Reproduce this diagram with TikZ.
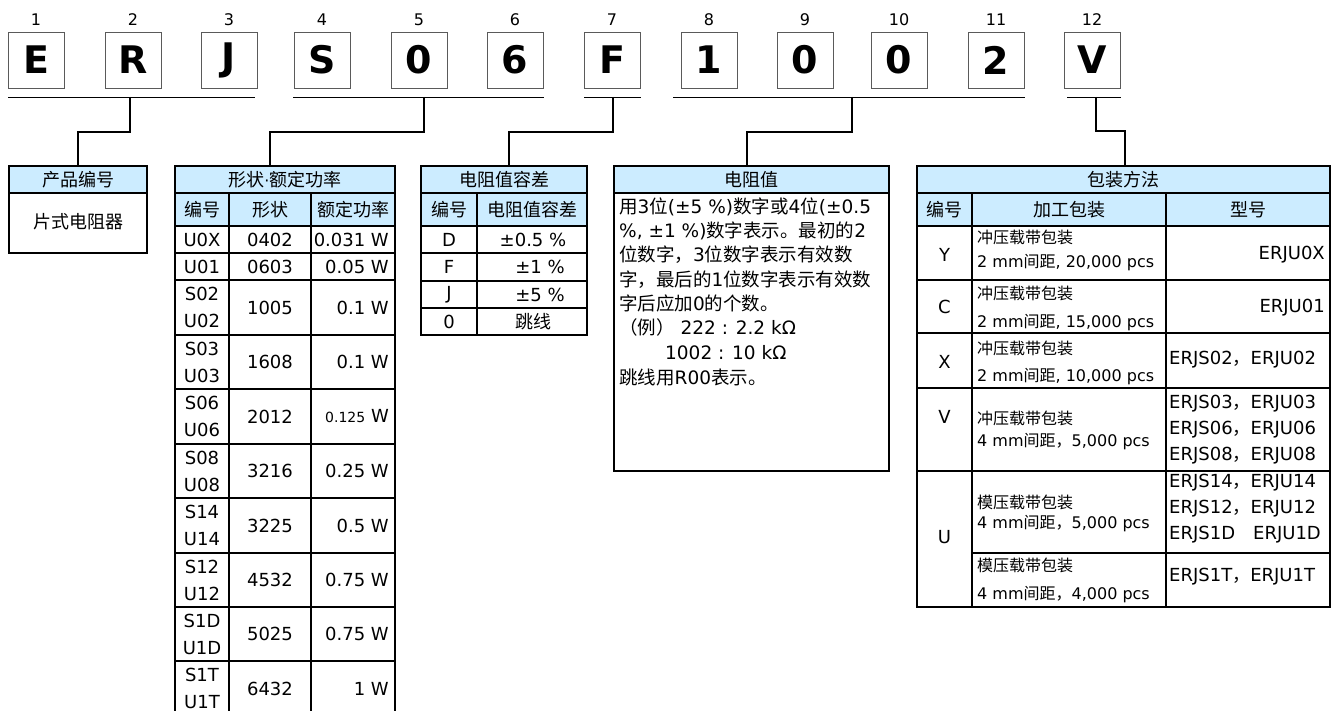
\documentclass[tikz,border=0pt]{standalone}
\usepackage{fontspec}
\setmainfont{DejaVu Sans}
\newfontfamily\cjk{Noto Sans CJK SC}
\newcommand{\zh}[1]{{\cjk #1}}
\usetikzlibrary{positioning}
\definecolor{headblue}{RGB}{204,236,255}
\definecolor{boxgray}{RGB}{90,90,90}

\begin{document}
\begin{tikzpicture}[x=1pt, y=-1pt,
  codebox/.style={draw=boxgray, line width=0.9pt, minimum width=56pt, minimum height=56pt, inner sep=0pt, font=\fontsize{38}{38}\selectfont\bfseries},
  digit/.style={inner sep=2pt, font=\fontsize{16}{16}\selectfont},
  rule/.style={line width=0.9pt},
  conn/.style={line width=1.8pt},
  grid/.style={line width=1.1pt},
  titlecell/.style={draw, line width=1.1pt, fill=headblue, minimum height=27pt, inner sep=0pt, font=\cjk\fontsize{18}{18}\selectfont},
  cjktext/.style={inner sep=0pt, font=\cjk\fontsize{18}{18}\selectfont},
  celltext/.style={inner sep=0pt, align=center, font=\fontsize{18}{27}\selectfont},
  para/.style={inner sep=0pt, anchor=base west, font=\fontsize{18.5}{18.5}\selectfont},
  packtext/.style={inner sep=0pt, anchor=base west, font=\fontsize{16}{16}\selectfont},
  codetext/.style={inner sep=0pt, align=left, anchor=west, font=\fontsize{18}{26}\selectfont}]

\path [use as bounding box] (0,0) rectangle (1333,711);

% CODE
\node (b1) [codebox] at (36,60) {E};
\node (b2) [codebox] at (133,60) {R};
\node (b3) [codebox] at (229,60) {J};
\node (b4) [codebox] at (322,60) {S};
\node (b5) [codebox] at (419,60) {0};
\node (b6) [codebox] at (515,60) {6};
\node (b7) [codebox] at (612,60) {F};
\node (b8) [codebox] at (709,60) {1};
\node (b9) [codebox] at (805,60) {0};
\node (b10) [codebox] at (899,60) {0};
\node (b11) [codebox] at (996,60) {2};
\node (b12) [codebox] at (1092,60) {V};

% POSITIONS
\node (n1) [digit, above=4pt of b1] {1};
\node (n2) [digit, above=4pt of b2] {2};
\node (n3) [digit, above=4pt of b3] {3};
\node (n4) [digit, above=4pt of b4] {4};
\node (n5) [digit, above=4pt of b5] {5};
\node (n6) [digit, above=4pt of b6] {6};
\node (n7) [digit, above=4pt of b7] {7};
\node (n8) [digit, above=4pt of b8] {8};
\node (n9) [digit, above=4pt of b9] {9};
\node (n10) [digit, above=4pt of b10] {10};
\node (n11) [digit, above=4pt of b11] {11};
\node (n12) [digit, above=4pt of b12] {12};

% GROUPS
\draw [rule] (8,97) -- (255,97);
\draw [rule] (293,97) -- (544,97);
\draw [rule] (584,97) -- (641,97);
\draw [rule] (673,97) -- (1025,97);
\draw [rule] (1067,97) -- (1121,97);
\coordinate (u1) at (130,97);
\coordinate (u2) at (424,97);
\coordinate (u3) at (613,97);
\coordinate (u4) at (852,97);
\coordinate (u5) at (1096,97);

% TABLE 1
\node (t1) [titlecell, minimum width=138pt] at (78,179.5) {产品编号};
\draw [grid] (9,193) rectangle (147,253);
\node (kind) [cjktext] at (78,222) {片式电阻器};

% TABLE 2
\node (t2) [titlecell, minimum width=220pt] at (285,179.5) {形状{\rmfamily\fontsize{16}{16}\selectfont ·}额定功率};
\fill [headblue] (175,193) rectangle (395,226);
\draw [grid] (175,193) rectangle (395,716);
\draw [grid] (229,193) -- (229,716) (311,193) -- (311,716);
\draw [grid] (175,226) -- (395,226) (175,253) -- (395,253) (175,280) -- (395,280)
  (175,335) -- (395,335) (175,389) -- (395,389) (175,444) -- (395,444)
  (175,498) -- (395,498) (175,553) -- (395,553) (175,607) -- (395,607)
  (175,661) -- (395,661);
\node (h21) [cjktext] at (202,209.5) {编号};
\node (h22) [cjktext] at (270,209.5) {形状};
\node (h23) [cjktext] at (353,209.5) {额定功率};
\node (pc1) [celltext] at (202,239.5) {U0X};
\node (ps1) [celltext] at (270,239.5) {0402};
\node (pw1) [celltext, anchor=east] at (389,239.5) {0.031 W};
\node (pc2) [celltext] at (202,266.5) {U01};
\node (ps2) [celltext] at (270,266.5) {0603};
\node (pw2) [celltext, anchor=east] at (389,266.5) {0.05 W};
\node (pc3) [celltext] at (202,307.5) {S02\\U02};
\node (ps3) [celltext] at (270,307.5) {1005};
\node (pw3) [celltext, anchor=east] at (389,307.5) {0.1 W};
\node (pc4) [celltext] at (202,362) {S03\\U03};
\node (ps4) [celltext] at (270,362) {1608};
\node (pw4) [celltext, anchor=east] at (389,362) {0.1 W};
\node (pc5) [celltext] at (202,416.5) {S06\\U06};
\node (ps5) [celltext] at (270,416.5) {2012};
\node (pw5) [celltext, anchor=east] at (389,416.5) {{\fontsize{14}{14}\selectfont 0.125} W};
\node (pc6) [celltext] at (202,471) {S08\\U08};
\node (ps6) [celltext] at (270,471) {3216};
\node (pw6) [celltext, anchor=east] at (389,471) {0.25 W};
\node (pc7) [celltext] at (202,525.5) {S14\\U14};
\node (ps7) [celltext] at (270,525.5) {3225};
\node (pw7) [celltext, anchor=east] at (389,525.5) {0.5 W};
\node (pc8) [celltext] at (202,580) {S12\\U12};
\node (ps8) [celltext] at (270,580) {4532};
\node (pw8) [celltext, anchor=east] at (389,580) {0.75 W};
\node (pc9) [celltext] at (202,634) {S1D\\U1D};
\node (ps9) [celltext] at (270,634) {5025};
\node (pw9) [celltext, anchor=east] at (389,634) {0.75 W};
\node (pc10) [celltext] at (202,688.5) {S1T\\U1T};
\node (ps10) [celltext] at (270,688.5) {6432};
\node (pw10) [celltext, anchor=east] at (389,688.5) {1 W};

% TABLE 3
\node (t3) [titlecell, minimum width=166pt] at (504,179.5) {电阻值容差};
\fill [headblue] (421,193) rectangle (587,226);
\draw [grid] (421,193) rectangle (587,335);
\draw [grid] (477,193) -- (477,335);
\draw [grid] (421,226) -- (587,226) (421,253) -- (587,253) (421,281) -- (587,281)
  (421,308) -- (587,308);
\node (h31) [cjktext] at (449,209.5) {编号};
\node (h32) [cjktext] at (532,209.5) {电阻值容差};
\node (tc1) [celltext] at (449,239.5) {D};
\node (tv1) [celltext] at (533,239.5) {±0.5 \%};
\node (tc2) [celltext] at (449,267) {F};
\node (tv2) [celltext] at (540,267) {±1 \%};
\node (tc3) [celltext] at (449,294.5) {J};
\node (tv3) [celltext] at (540,294.5) {±5 \%};
\node (tc4) [celltext] at (449,321.5) {0};
\node (tv4) [cjktext] at (533,321.5) {跳线};

% TABLE 4
\node (t4) [titlecell, minimum width=275pt] at (751.5,179.5) {电阻值};
\draw [grid] (614,193) rectangle (889,471);
\node (r1) [para] at (619,213.5) {\zh{用}3\zh{位}(±5 \%)\zh{数字或}4\zh{位}(±0.5};
\node (r2) [para] at (619,237.5) {\%, ±1 \%)\zh{数字表示。最初的}2};
\node (r3) [para] at (619,261.5) {\zh{位数字，}3\zh{位数字表示有效数}};
\node (r4) [para] at (619,286.5) {\zh{字，最后的}1\zh{位数字表示有效数}};
\node (r5) [para] at (619,310.5) {\zh{字后应加}0\zh{的个数。}};
\node (r6) [para] at (619,334.5) {\zh{（例）} 222 : 2.2 kΩ};
\node (r7) [para] at (665,359.5) {1002 : 10 kΩ};
\node (r8) [para] at (619,384.5) {\zh{跳线用}R00\zh{表示。}};

% TABLE 5
\node (t5) [titlecell, minimum width=413pt] at (1123.5,179.5) {包装方法};
\fill [headblue] (917,193) rectangle (1330,226);
\draw [grid] (917,193) rectangle (1330,607);
\draw [grid] (972,193) -- (972,607) (1166,193) -- (1166,607);
\draw [grid] (917,226) -- (1330,226) (917,280) -- (1330,280) (917,333) -- (1330,333)
  (917,388) -- (1330,388) (917,471) -- (1330,471) (972,553) -- (1330,553);
\node (h51) [cjktext] at (944.5,209.5) {编号};
\node (h52) [cjktext] at (1069,209.5) {加工包装};
\node (h53) [cjktext] at (1248,209.5) {型号};
\node (kc1) [celltext] at (944.5,255) {Y};
\node (ka1) [packtext] at (977,244) {\zh{冲压载带包装}};
\node (kb1) [packtext] at (977,268) {2 mm\zh{间距}, 20,000 pcs};
\node (km1) [celltext, anchor=east] at (1325,255) {ERJU0X};
\node (kc2) [celltext] at (944.5,307) {C};
\node (ka2) [packtext] at (977,299) {\zh{冲压载带包装}};
\node (kb2) [packtext] at (977,327) {2 mm\zh{间距}, 15,000 pcs};
\node (km2) [celltext, anchor=east] at (1325,308) {ERJU01};
\node (kc3) [celltext] at (944.5,362) {X};
\node (ka3) [packtext] at (977,354) {\zh{冲压载带包装}};
\node (kb3) [packtext] at (977,381) {2 mm\zh{间距}, 10,000 pcs};
\node (km3) [codetext] at (1169,360) {ERJS02\zh{，}ERJU02};
\node (kc4) [celltext] at (944.5,417) {V};
\node (ka4) [packtext] at (977,424) {\zh{冲压载带包装}};
\node (kb4) [packtext] at (977,446) {4 mm\zh{间距，}5,000 pcs};
\node (km4) [codetext] at (1169,430) {ERJS03\zh{，}ERJU03\\ERJS06\zh{，}ERJU06\\ERJS08\zh{，}ERJU08};
\node (kc5) [celltext] at (944.5,537) {U};
\node (ka5) [packtext] at (977,508) {\zh{模压载带包装}};
\node (kb5) [packtext] at (977,528) {4 mm\zh{间距，}5,000 pcs};
\node (km5) [codetext] at (1169,509) {ERJS14\zh{，}ERJU14\\ERJS12\zh{，}ERJU12\\ERJS1D\zh{　}ERJU1D};
\node (ka6) [packtext] at (977,571) {\zh{模压载带包装}};
\node (kb6) [packtext] at (977,599) {4 mm\zh{间距，}4,000 pcs};
\node (km6) [codetext] at (1169,577) {ERJS1T\zh{，}ERJU1T};

% LINKS
\draw [conn] (u1) -- ++(0,35) -| (t1.north);
\draw [conn] (u2) -- ++(0,35) -| ([xshift=-15pt]t2.north);
\draw [conn] (u3) -- ++(0,35) -| ([xshift=5pt]t3.north);
\draw [conn] (u4) -- ++(0,35) -| ([xshift=-4.5pt]t4.north);
\draw [conn] (u5) -- ++(0,34) -| ([xshift=1.5pt]t5.north);

\end{tikzpicture}
\end{document}
